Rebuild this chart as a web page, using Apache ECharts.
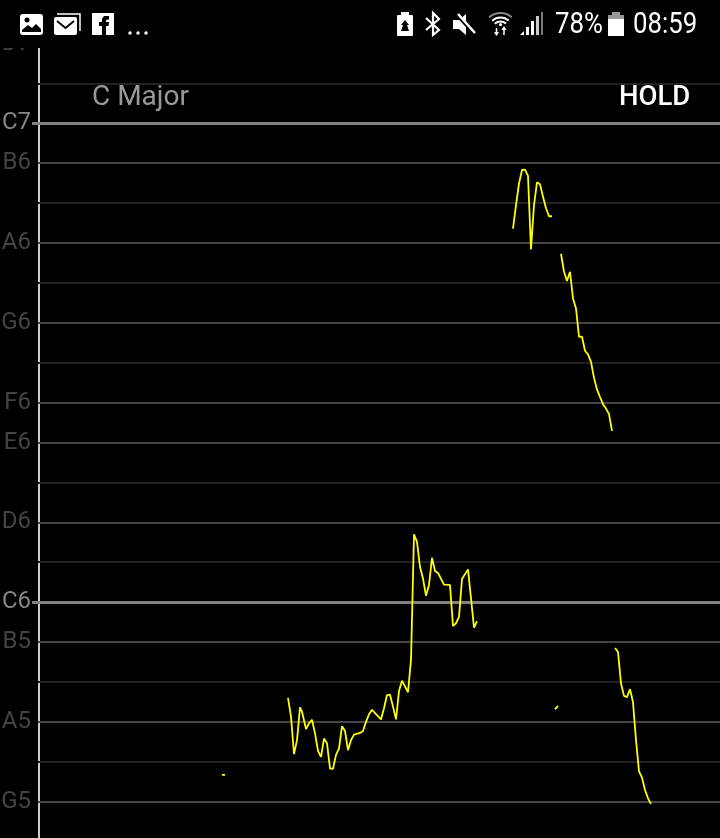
<!DOCTYPE html>
<html>
<head>
<meta charset="utf-8">
<style>html,body{margin:0;padding:0;background:#000;height:838px;overflow:hidden;}#c{width:720px;height:844px;}</style>
<script src="https://cdn.jsdelivr.net/npm/echarts@6/dist/echarts.min.js"></script>
</head>
<body>
<div id="c"></div>
<script>
// Pitch in semitones (MIDI numbering: C6 = 84), time in horizontal units.
const noteNames = {79:'G5',81:'A5',83:'B5',84:'C6',86:'D6',88:'E6',89:'F6',91:'G6',93:'A6',95:'B6',96:'C7',98:'D7'};
const octaveNotes = [84, 96];
const naturalNotes = [79, 81, 83, 86, 88, 89, 91, 93, 95];
const sharpNotes = [80, 82, 85, 87, 90, 92, 94, 97];

const time1 = [222, 225];
const pitch1 = [79.67, 79.67];
const time2 = [288,291,294,297,300,302,306,309,312,315,318,321,324,327,330,333,336,339,342,345,348,351,354,360,363,366,369,372,381,384,387,390,393,396,399,402,408,411,414,417,420,423,426,429,432,435,438,444,450,453,456,459,462,468,474,477];
const pitch2 = [81.60,81.13,80.19,80.54,81.36,81.25,80.82,80.96,81.05,80.71,80.27,80.12,80.58,80.46,79.83,79.82,80.17,80.33,80.89,80.77,80.29,80.54,80.68,80.72,80.77,81.00,81.19,81.30,81.06,81.34,81.67,81.68,81.38,81.06,81.77,82.03,81.74,82.55,85.70,85.51,84.88,84.59,84.16,84.43,85.11,84.78,84.73,84.44,84.43,83.40,83.47,83.63,84.58,84.82,83.36,83.52];
const time3 = [513,516,519,522,525,528,531,534,537,540,543,546,549,552];
const pitch3 = [93.36,93.95,94.49,94.83,94.84,94.68,92.84,93.95,94.52,94.47,94.16,93.87,93.67,93.67];
const time4 = [561,564,567,570,573,576,579,582,585,588,591,594,597,600,603,606,609,612];
const pitch4 = [92.73,92.28,92.05,92.28,91.61,91.36,90.65,90.65,90.30,90.21,90.02,89.62,89.33,89.14,88.96,88.85,88.71,88.29];
const time5 = [555, 558];
const pitch5 = [81.31, 81.40];
const time6 = [615,618,621,624,627,630,633,636,639,642,645,648,651];
const pitch6 = [82.85,82.75,81.96,81.65,81.62,81.82,81.49,80.54,79.76,79.60,79.29,79.08,78.94];

const phrases = [[time1,pitch1],[time2,pitch2],[time3,pitch3],[time4,pitch4],[time5,pitch5],[time6,pitch6]];
const scaleName = 'C Major';
const holdLabel = 'HOLD';
const batteryText = '78%';
const clockText = '08:59';

function gridSeries(notes, color, width, start) {
  return {
    type: 'line', data: [], silent: true, z: 1,
    markLine: {
      silent: true, symbol: 'none', animation: false, label: {show: false},
      lineStyle: {color: color, width: width, type: 'solid'},
      data: notes.map(n => [{coord: [start, n]}, {coord: [720, n]}])
    }
  };
}
const W = '#fff', K = '#000';
const poly = (pts, fill) => ({type: 'polygon', z: 60, shape: {points: pts}, style: {fill: fill || W}});
const pline = (pts, w, col) => ({type: 'polyline', z: 60, shape: {points: pts}, style: {fill: null, stroke: col || W, lineWidth: w}});
const rect = (x, y, w, h, fill, r) => ({type: 'rect', z: 60, shape: {x, y, width: w, height: h, r: r || 0}, style: {fill: fill || W}});
const arc = (cx, cy, r, a, b, w, col) => ({type: 'arc', z: 60, shape: {cx, cy, r, startAngle: a, endAngle: b}, style: {fill: null, stroke: col || W, lineWidth: w}});
const statusText = (text, x) => ({type: 'text', z: 60, x: x, y: 25, scaleX: 0.86, style: {text: text, fill: W, font: '400 30px Roboto', verticalAlign: 'middle', align: 'left'}});

const statusBar = [
  rect(0, 0, 720, 48, K),
  // picture
  rect(20, 14, 23, 21, W, 3),
  {type: 'circle', z: 60, shape: {cx: 27, cy: 20, r: 2.5}, style: {fill: K}},
  poly([[22,32],[22,30],[28,25],[32,28],[36,24],[41,29],[41,32]], K),
  // mail
  pline([[57,14],[80,14],[80,31]], 1.5),
  rect(54, 17, 23, 18, W, 2),
  pline([[57,21],[65.5,28],[74,21]], 2, K),
  // facebook
  rect(92, 13, 22, 22, W),
  poly([[102,35],[102,26],[99,26],[99,22],[102,22],[102,19],[104,16],[109,16],[109,19.5],[107,19.5],[106,21],[106,22],[109,22],[108.5,26],[106,26],[106,35]], K),
  // more dots
  {type: 'circle', z: 60, shape: {cx: 130, cy: 33, r: 1.7}, style: {fill: W}},
  {type: 'circle', z: 60, shape: {cx: 138, cy: 33, r: 1.7}, style: {fill: W}},
  {type: 'circle', z: 60, shape: {cx: 146, cy: 33, r: 1.7}, style: {fill: W}},
  // battery saver
  rect(397, 15, 16, 21, W, 1),
  rect(401, 12, 8, 3, W),
  poly([[405,20],[409,25],[407,25],[409,31],[401,31],[403,25],[401,25]], K),
  // bluetooth
  pline([[426,18],[439,30],[433,35],[433,13],[439,19],[426,30]], 2.2),
  // mute
  poly([[453,20],[459,20],[466,14],[466,35],[459,29],[453,29]]),
  pline([[455,13],[475,35]], 3, K),
  pline([[458,14],[475,33]], 2.5),
  // wifi
  arc(500.5, 30, 17, -2.3, -0.85, 2, '#888'),
  arc(500.5, 30, 12.5, -2.3, -0.85, 2),
  arc(500.5, 30, 8.5, -2.3, -0.85, 2),
  {type: 'circle', z: 60, shape: {cx: 500.5, cy: 24.5, r: 1.6}, style: {fill: W}},
  pline([[496.5,28],[496.5,35]], 1.5), pline([[504,28],[504,35]], 1.5),
  poly([[494,32],[499,32],[496.5,36]]), poly([[501.5,30],[506.5,30],[504,26]]),
  // signal
  poly([[520,35],[524,31],[524,35]]),
  rect(526, 27, 3, 8),
  rect(531, 21, 3, 14),
  rect(541, 12, 2, 23, '#777'),
  rect(536, 16, 3, 19, '#ccc'),
  statusText(batteryText, 555),
  // battery
  rect(612, 12, 8, 3, '#999'),
  rect(608, 15, 16, 6, '#999'),
  rect(608, 19, 16, 17),
  statusText(clockText, 633)
];

const series = [
  gridSeries(sharpNotes, '#222222', 2, 38),
  gridSeries(naturalNotes, '#464646', 2, 38),
  gridSeries(octaveNotes, '#808080', 3, 32)
];
phrases.forEach(p => series.push({
  type: 'line', z: 5, symbol: 'none', smooth: false, animation: false, silent: true,
  lineStyle: {color: '#ffff00', width: 1.8},
  data: p[0].map((t, i) => [t, p[1][i]])
}));

const chart = echarts.init(document.getElementById('c'), null, {renderer: 'canvas'});
chart.setOption({
  animation: false,
  backgroundColor: '#000',
  title: [
    {text: scaleName, left: 87, top: 79, textStyle: {color: '#999', fontFamily: 'Roboto', fontWeight: 400, fontSize: 28}},
    {text: holdLabel, left: 614, top: 79, textStyle: {color: '#fff', fontFamily: 'Roboto', fontWeight: 500, fontSize: 27.5}}
  ],
  grid: {left: 0, right: 0, top: 43.5, height: 798, containLabel: false, outerBoundsMode: 'none'},
  xAxis: {type: 'value', min: 0, max: 720, show: false},
  yAxis: {
    type: 'value', min: 78, max: 98, interval: 1, position: 'left', offset: -39,
    axisLine: {show: true, onZero: false, lineStyle: {color: '#cccccc', width: 2}},
    axisTick: {show: false},
    splitLine: {show: false},
    axisLabel: {
      show: true, margin: 8, padding: [0, 0, 4, 0],
      fontFamily: 'Roboto', fontSize: 24,
      color: v => octaveNotes.includes(Number(v)) ? '#858585' : '#444444',
      formatter: v => noteNames[v] || ''
    }
  },
  graphic: {elements: statusBar},
  series: series
});
</script>
</body>
</html>
